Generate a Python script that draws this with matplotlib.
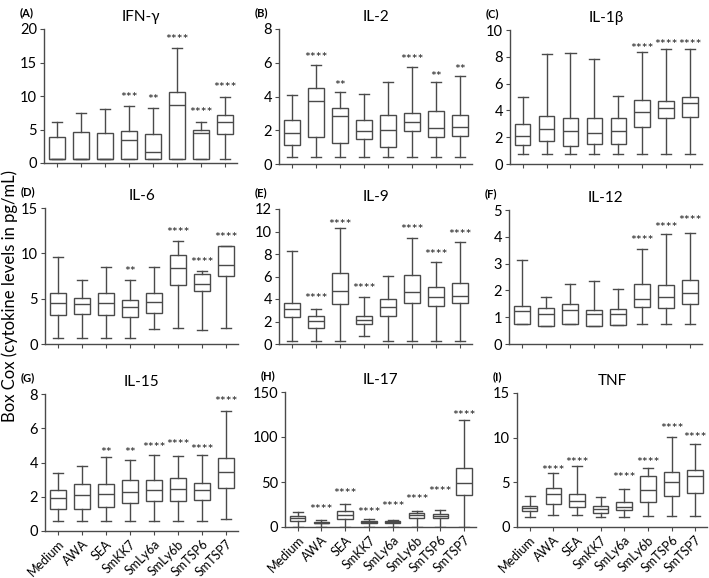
import matplotlib
matplotlib.use("Agg")
import matplotlib.pyplot as plt
from matplotlib.transforms import offset_copy

plt.rcParams['font.family'] = ['Lato', 'DejaVu Sans']

groups = ['Medium', 'AWA', 'SEA', 'SmKK7', 'SmLy6a', 'SmLy6b', 'SmTSP6', 'SmTSP7']

# each row: whisker low, q1, median, q3, whisker high
ifng = [[0.54, 0.54, 0.54, 3.83, 6.14],
        [0.54, 0.54, 0.54, 4.62, 7.42],
        [0.54, 0.54, 0.54, 4.52, 8.06],
        [0.54, 0.54, 3.49, 4.72, 8.45],
        [0.54, 0.54, 1.57, 4.37, 8.20],
        [0.54, 0.60, 8.65, 10.56, 17.15],
        [0.54, 0.54, 4.52, 4.96, 6.19],
        [0.54, 4.27, 6.19, 7.17, 9.83]]
ifng_stars = ['', '', '', '***', '**', '****', '****', '****']
ifng_star_y = [0, 0, 0, 10.66, 10.32, 19.26, 8.35, 12.04]

il2 = [[0.4, 1.15, 1.82, 2.60, 4.10],
       [0.4, 1.60, 3.76, 4.50, 5.86],
       [0.4, 1.23, 2.85, 3.29, 4.26],
       [0.4, 1.50, 1.98, 2.61, 4.16],
       [0.4, 1.00, 2.02, 2.90, 4.87],
       [0.4, 1.96, 2.48, 3.00, 5.74],
       [0.4, 1.58, 2.16, 3.15, 4.87],
       [0.4, 1.64, 2.18, 2.90, 5.19]]
il2_stars = ['', '****', '**', '', '', '****', '**', '**']
il2_star_y = [0, 6.61, 4.99, 0, 0, 6.51, 5.52, 5.92]

il1b = [[0.72, 1.42, 2.11, 2.99, 4.98],
        [0.72, 1.72, 2.64, 3.56, 8.18],
        [0.72, 1.32, 2.44, 3.41, 8.26],
        [0.72, 1.47, 2.29, 3.41, 7.81],
        [0.72, 1.47, 2.44, 3.41, 5.10],
        [0.72, 2.79, 3.88, 4.78, 8.38],
        [0.72, 3.41, 4.15, 4.70, 8.60],
        [0.72, 3.53, 4.53, 5.02, 8.60]]
il1b_stars = ['', '', '', '', '', '****', '****', '****']
il1b_star_y = [0, 0, 0, 0, 0, 9.05, 9.3, 9.3]

il6 = [[0.66, 3.22, 4.47, 5.64, 9.56],
       [0.66, 3.33, 4.36, 5.10, 7.03],
       [0.66, 3.22, 4.54, 5.60, 8.50],
       [0.66, 2.97, 4.07, 4.80, 7.07],
       [1.61, 3.44, 4.58, 5.68, 8.50],
       [1.79, 6.56, 8.35, 9.85, 11.36],
       [1.50, 5.82, 6.67, 7.77, 8.10],
       [1.76, 7.47, 8.75, 10.80, 10.84]]
il6_stars = ['', '', '', '**', '', '****', '****', '****']
il6_star_y = [0, 0, 0, 8.57, 0, 12.9, 9.6, 12.34]

il9 = [[0.30, 2.37, 3.14, 3.61, 8.27],
       [0.30, 1.42, 2.01, 2.46, 3.11],
       [0.30, 3.59, 4.68, 6.28, 10.28],
       [0.74, 1.78, 2.16, 2.46, 4.15],
       [0.30, 2.52, 3.29, 4.00, 6.04],
       [0.30, 3.61, 4.62, 6.10, 9.45],
       [0.30, 3.38, 4.15, 5.04, 7.32],
       [0.30, 3.61, 4.24, 5.45, 9.10]]
il9_stars = ['', '****', '****', '****', '', '****', '****', '****']
il9_star_y = [0, 4.56, 11.11, 5.45, 0, 10.64, 8.44, 10.19]

il12 = [[0.75, 0.75, 1.23, 1.41, 3.13],
        [0.67, 0.67, 1.11, 1.33, 1.74],
        [0.75, 0.75, 1.27, 1.48, 2.23],
        [0.68, 0.68, 1.11, 1.28, 2.34],
        [0.71, 0.71, 1.13, 1.32, 2.06],
        [0.76, 1.37, 1.68, 2.23, 3.56],
        [0.76, 1.34, 1.77, 2.19, 4.09],
        [0.76, 1.50, 1.90, 2.38, 4.14]]
il12_stars = ['', '', '', '', '', '****', '****', '****']
il12_star_y = [0, 0, 0, 0, 0, 4.07, 4.55, 4.83]

il15 = [[0.60, 1.30, 1.90, 2.39, 3.37],
        [0.60, 1.26, 2.12, 2.76, 3.77],
        [0.60, 1.40, 2.18, 2.76, 4.30],
        [0.60, 1.65, 2.30, 3.00, 4.16],
        [0.60, 1.75, 2.37, 3.00, 4.42],
        [0.60, 1.75, 2.45, 3.07, 4.38],
        [0.60, 1.79, 2.39, 2.82, 4.42],
        [0.68, 2.51, 3.42, 4.28, 6.98]]
il15_stars = ['', '', '**', '**', '****', '****', '****', '****']
il15_star_y = [0, 0, 4.92, 4.92, 5.17, 5.39, 5.08, 7.9]

il17 = [[0.0, 7.0, 10.0, 12.6, 16.6],
        [0.0, 4.0, 4.8, 5.9, 7.4],
        [0.0, 8.5, 13.7, 17.7, 25.5],
        [0.0, 4.4, 5.2, 6.3, 8.9],
        [0.0, 4.8, 5.9, 7.0, 7.8],
        [0.0, 9.6, 13.7, 15.9, 18.0],
        [0.0, 9.6, 12.2, 14.4, 18.5],
        [0.0, 35.5, 48.4, 65.8, 119.0]]
il17_stars = ['', '****', '****', '****', '****', '****', '****', '****']
il17_star_y = [0, 25.5, 42.8, 22.2, 28.8, 36.6, 45.8, 129.7]

tnf = [[1.12, 1.80, 2.10, 2.40, 3.52],
       [1.31, 2.62, 3.75, 4.42, 6.00],
       [1.31, 2.25, 2.92, 3.64, 6.86],
       [1.12, 1.61, 2.06, 2.40, 3.34],
       [1.16, 1.87, 2.25, 2.77, 4.27],
       [1.24, 2.81, 4.12, 5.66, 6.56],
       [1.24, 3.52, 5.02, 6.15, 10.05],
       [1.24, 3.86, 5.70, 6.34, 9.34]]
tnf_stars = ['', '****', '****', '', '****', '****', '****', '****']
tnf_star_y = [0, 6.94, 7.87, 0, 6.11, 7.87, 11.62, 10.69]

panels = [
    ('(A)', 'IFN-γ', ifng, ifng_stars, ifng_star_y, [0, 5, 10, 15, 20]),
    ('(B)', 'IL-2', il2, il2_stars, il2_star_y, [0, 2, 4, 6, 8]),
    ('(C)', 'IL-1β', il1b, il1b_stars, il1b_star_y, [0, 2, 4, 6, 8, 10]),
    ('(D)', 'IL-6', il6, il6_stars, il6_star_y, [0, 5, 10, 15]),
    ('(E)', 'IL-9', il9, il9_stars, il9_star_y, [0, 2, 4, 6, 8, 10, 12]),
    ('(F)', 'IL-12', il12, il12_stars, il12_star_y, [0, 1, 2, 3, 4, 5]),
    ('(G)', 'IL-15', il15, il15_stars, il15_star_y, [0, 2, 4, 6, 8]),
    ('(H)', 'IL-17', il17, il17_stars, il17_star_y, [0, 50, 100, 150]),
    ('(I)', 'TNF', tnf, tnf_stars, tnf_star_y, [0, 5, 10, 15]),
]

W, H = 709, 578
# axes boxes in pixels: left, right, top, bottom
boxes = [(44, 237, 29, 163), (279, 472, 29, 164), (510, 702, 30, 164),
         (45, 238, 208, 344), (279, 472, 209, 344), (509, 702, 210, 344),
         (45, 238, 394, 531), (285, 476, 392, 527), (517, 707, 393, 527)]

lc = '#4a4a4a'
fig = plt.figure(figsize=(W / 100, H / 100), dpi=100)

for i, (tag, name, rows, stars, star_y, yt) in enumerate(panels):
    l, r, t, b = boxes[i]
    ax = fig.add_axes([l / W, 1 - b / H, (r - l) / W, (b - t) / H])
    stats = [dict(whislo=s[0], q1=s[1], med=s[2], q3=s[3], whishi=s[4], fliers=[])
             for s in rows]
    ax.bxp(stats, positions=range(1, 9), widths=0.65, capwidths=0.42,
           showfliers=False, patch_artist=True,
           boxprops=dict(facecolor='white', edgecolor=lc, linewidth=1.0),
           medianprops=dict(color=lc, linewidth=1.0),
           whiskerprops=dict(color=lc, linewidth=1.0),
           capprops=dict(color=lc, linewidth=1.0))
    # stars: shift down so the glyphs sit on the read-off height
    star_tr = offset_copy(ax.transData, fig=fig, x=0, y=-6, units='dots')
    for x, (s, y) in enumerate(zip(stars, star_y), start=1):
        if s:
            ax.text(x, y, s, ha='center', va='center', fontsize=10,
                    color='#222222', transform=star_tr)
    ax.set_xlim(0.47, 8.5)
    ax.set_ylim(0, yt[-1])
    ax.set_yticks(yt)
    ax.set_xticks(range(1, 9))
    if i >= 6:
        ax.set_xticklabels(groups, rotation=45, ha='right', rotation_mode='anchor',
                           fontsize=9)
    else:
        ax.set_xticklabels([])
    ax.tick_params(axis='y', labelsize=10.5, length=3, color=lc, pad=2)
    ax.tick_params(axis='x', length=3, color=lc, pad=2)
    for sp in ['top', 'right']:
        ax.spines[sp].set_visible(False)
    for sp in ['left', 'bottom']:
        ax.spines[sp].set_color(lc)
        ax.spines[sp].set_linewidth(1.0)
    ax.set_title(name, fontsize=11, pad=6)
    fig.text((l - 24) / W, 1 - (t - 16) / H, tag, fontsize=8, fontweight='bold',
             ha='left', va='center')

fig.text(10 / W, 1 - 296 / H, 'Box Cox (cytokine levels in pg/mL)', rotation=90,
         ha='center', va='center', fontsize=12)

fig.savefig('out.png', dpi=100)
